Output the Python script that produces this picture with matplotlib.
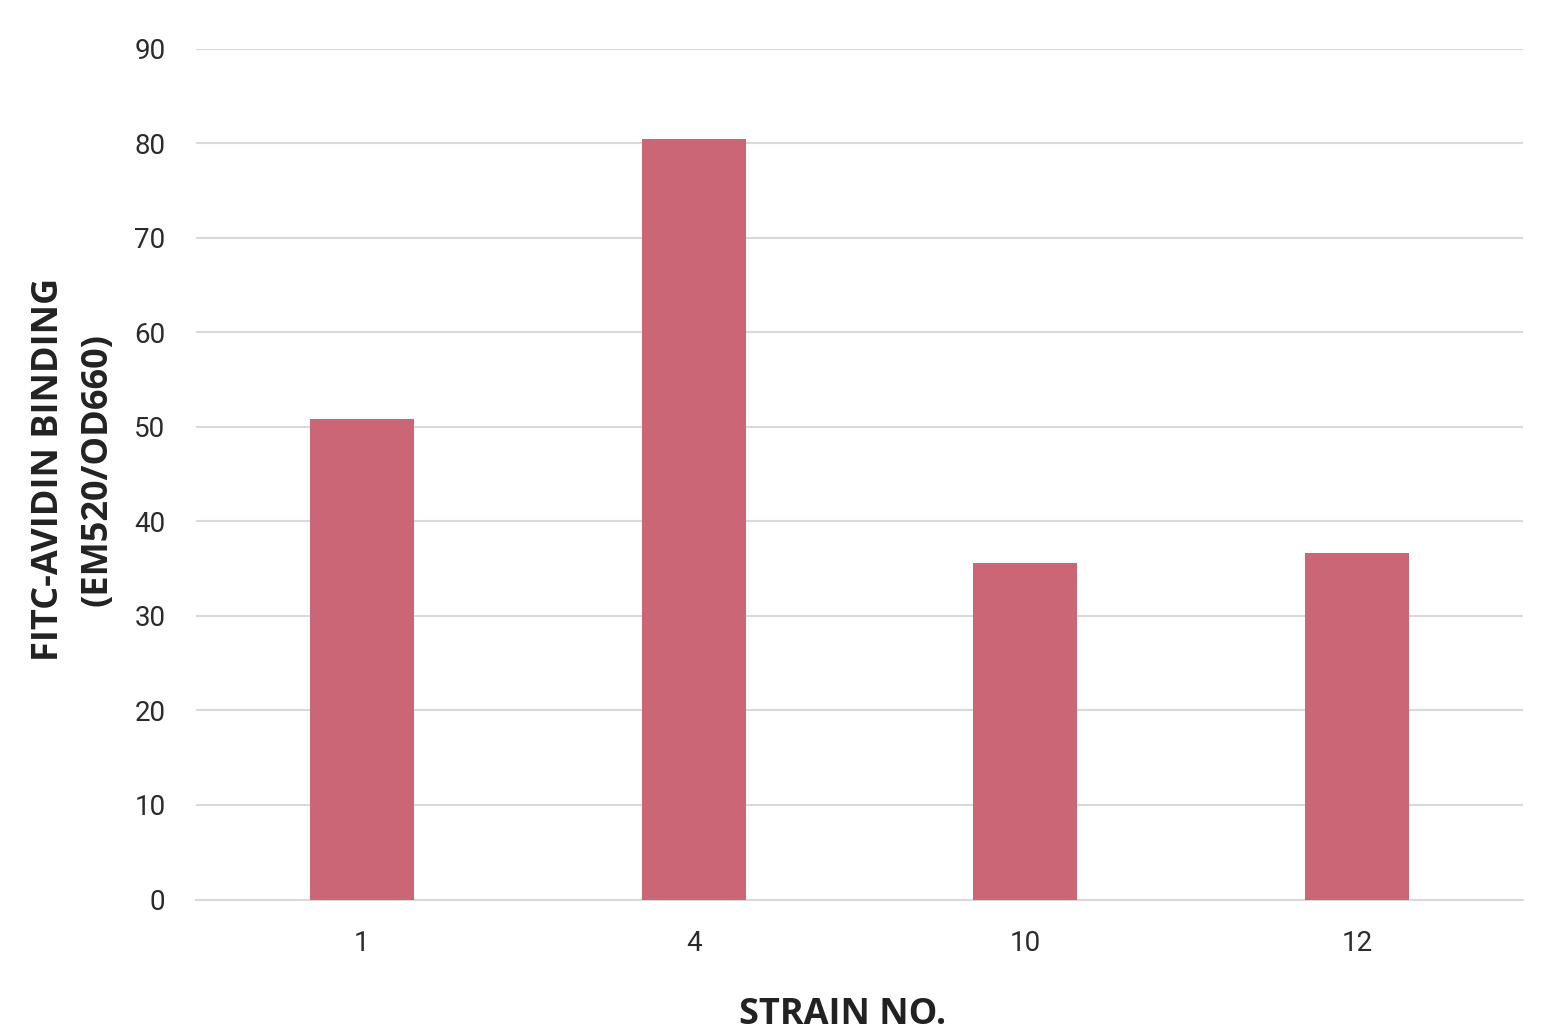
import matplotlib
matplotlib.use("Agg")
import matplotlib.pyplot as plt
import numpy as np

strains = ["1", "4", "10", "12"]
binding = [50.8, 80.4, 35.6, 36.7]
y_ticks = [0, 10, 20, 30, 40, 50, 60, 70, 80, 90]

bar_color = "#CB6677"
grid_color = "#D9D9D9"

fig = plt.figure(figsize=(15.44, 10.33), dpi=100)
ax = fig.add_axes([0.127, 0.1292, 0.8594, 0.8238])

x = np.arange(len(strains))
ax.bar(x, binding, width=0.313, color=bar_color, zorder=3)

ax.set_xlim(-0.5, len(strains) - 0.5)
ax.set_ylim(0, 90)
ax.set_yticks(y_ticks)
ax.set_xticks(x)
ax.set_xticklabels(strains)

ax.yaxis.grid(True, color=grid_color, linewidth=1.5, zorder=0)
ax.set_axisbelow(True)
for side in ["top", "right", "left"]:
    ax.spines[side].set_visible(False)
ax.spines["bottom"].set_color(grid_color)
ax.spines["bottom"].set_linewidth(1.5)

ax.tick_params(axis="both", length=0, labelsize=20, labelcolor="#2b2b2b")
ax.tick_params(axis="y", pad=22)
ax.tick_params(axis="x", pad=22)
for lab in ax.get_xticklabels() + ax.get_yticklabels():
    lab.set_fontfamily("Roboto")

ax.set_ylabel("FITC-AVIDIN BINDING\n(EM520/OD660)", fontsize=26, fontweight="bold",
              fontfamily="Open Sans", color="#222222", linespacing=1.45)
ax.yaxis.label.set_va("center")
ax.yaxis.set_label_coords(-0.0927, 0.505)

ax.set_xlabel("STRAIN NO.", fontsize=26, fontweight="bold",
              fontfamily="Open Sans", color="#222222")
ax.xaxis.label.set_va("top")
ax.xaxis.set_label_coords(0.4876, -0.114)

fig.savefig("out.png", dpi=100)
